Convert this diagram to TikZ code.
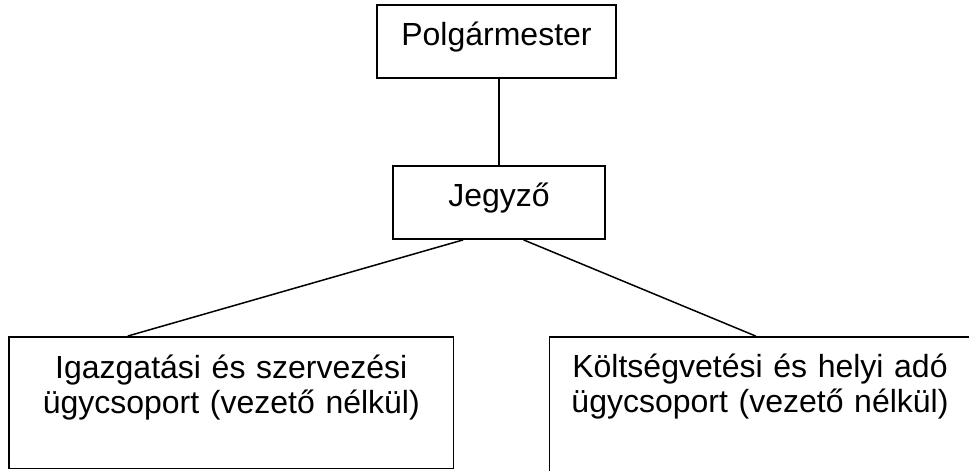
\documentclass[tikz,border=0pt]{standalone}
\usepackage{fontspec}
\setmainfont{Liberation Sans}
\usetikzlibrary{calc}

\begin{document}
\begin{tikzpicture}[x=1pt, y=1pt,
  box/.style={draw, line width=1.8pt, inner sep=0pt, align=center, font=\fontsize{32}{35}\selectfont},
  link/.style={line width=1.5pt}]
\useasboundingbox (0,0) rectangle (969,471);
\clip (0,0) rectangle (969,471);
\draw node[box, minimum width=239, minimum height=73, text height=24, text depth=15] (polg) at (496.5,429.5) {Polgármester};
\draw node[box, minimum width=212, minimum height=73, text height=24, text depth=15] (jegyzo) at (499,268.5) {Jegyző};
\draw node[box, minimum width=444.5, minimum height=131.5, text width=440, text height=24, text depth=73] (igazg) at (231.3,68.3) {Igazgatási és szervezési\\ ügycsoport (vezető nélkül)};
\draw node[box, minimum width=421, minimum height=140, text width=415, text height=24, text depth=83] (koltseg) at (760,64) {Költségvetési és helyi adó\\ ügycsoport (vezető nélkül)};
\draw[link] (jegyzo.north |- polg.south) -- (jegyzo.north);
\draw[link] ($(jegyzo.south west)!0.332!(jegyzo.south east)$) -- ($(igazg.north west)!0.268!(igazg.north east)$);
\draw[link] ($(jegyzo.south west)!0.615!(jegyzo.south east)$) -- ($(koltseg.north west)!0.49!(koltseg.north east)$);
\end{tikzpicture}
\end{document}
